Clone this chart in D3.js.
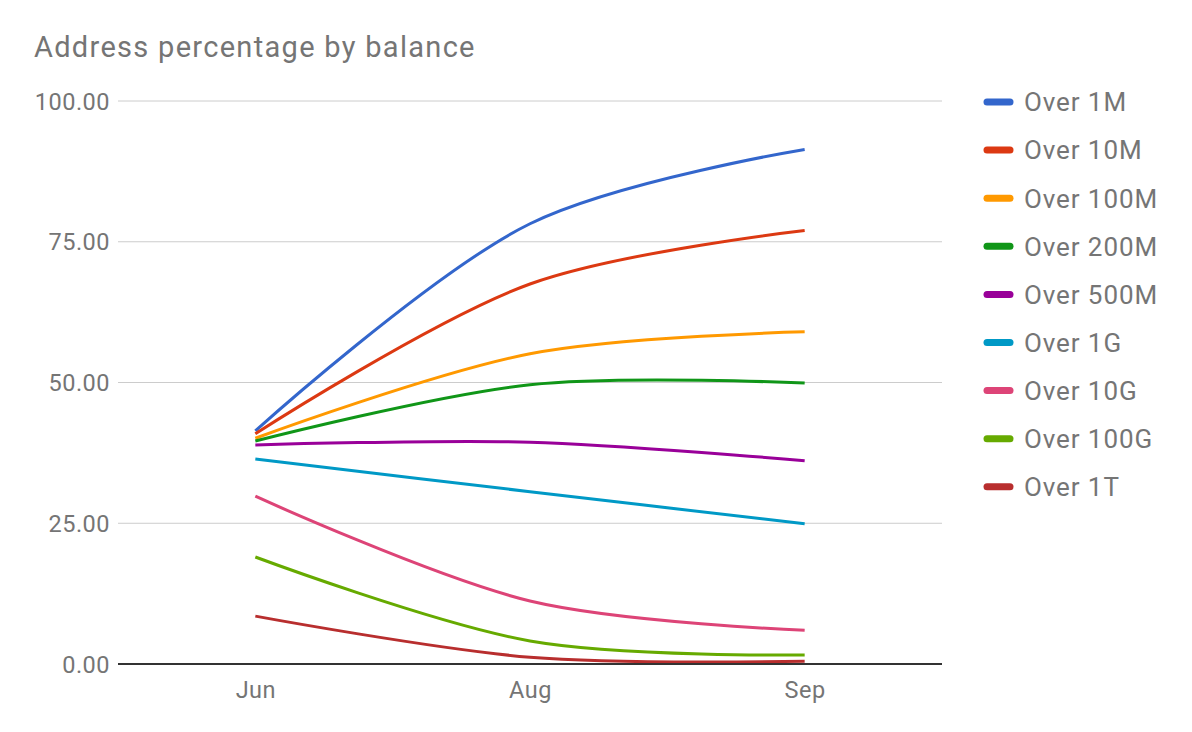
<!DOCTYPE html>
<html><head><meta charset="utf-8">
<script src="https://cdn.jsdelivr.net/npm/d3@7"></script>
<style>body{margin:0;background:#fff}svg{display:block;font-family:Roboto,Arial,sans-serif}</style>
</head><body><svg id="c" width="1192" height="732"></svg>
<script>
const title = "Address percentage by balance";
const months = ["Jun", "Aug", "Sep"];
const seriesNames = ["Over 1M","Over 10M","Over 100M","Over 200M","Over 500M","Over 1G","Over 10G","Over 100G","Over 1T"];
const over1M   = [41.4, 78.2, 91.4];
const over10M  = [40.9, 67.5, 77.0];
const over100M = [40.1, 55.1, 59.0];
const over200M = [39.6, 49.6, 49.9];
const over500M = [38.9, 39.4, 36.1];
const over1G   = [36.4, 30.6, 24.9];
const over10G  = [29.8, 11.2, 6.0];
const over100G = [19.0, 4.1, 1.6];
const over1T   = [8.5, 1.2, 0.5];
const yTicks = [0, 25, 50, 75, 100];
const colors = ["#3366cc","#dc3912","#ff9900","#109618","#990099","#0099c6","#dd4477","#66aa00","#b82e2e"];
const allValues = [over1M, over10M, over100M, over200M, over500M, over1G, over10G, over100G, over1T];

const svg = d3.select("#c");
const L = 118, R = 942, T = 101, B = 664;
const x = d3.scalePoint().domain(months).range([L, R]).padding(0.5);
const y = d3.scaleLinear().domain([0, 100]).range([B, T]);

svg.append("text").attr("x", 34).attr("y", 57).attr("font-size", 29).attr("letter-spacing", 1.3)
  .attr("fill", "#757575").text(title);

svg.append("g").selectAll("line").data(yTicks.filter(d => d !== 0)).enter().append("line")
  .attr("x1", L).attr("x2", R).attr("y1", d => y(d)).attr("y2", d => y(d))
  .attr("stroke", "#cccccc").attr("stroke-width", 1);

const yAxis = d3.axisLeft(y).tickValues(yTicks).tickSize(0).tickPadding(8).tickFormat(d3.format(".2f"));
svg.append("g").attr("transform", `translate(${L},0)`).call(yAxis)
  .call(a => a.select(".domain").remove())
  .call(a => a.selectAll("text").attr("font-size", 23.5).attr("letter-spacing", 0.5).attr("fill", "#757575")
    .attr("font-family", "Roboto,Arial,sans-serif").attr("dy", "0.35em"));

const xAxis = d3.axisBottom(x).tickSize(0).tickPadding(17);
svg.append("g").attr("transform", `translate(0,${B})`).call(xAxis)
  .call(a => a.select(".domain").remove())
  .call(a => a.selectAll("text").attr("font-size", 23.5).attr("letter-spacing", 0.5).attr("fill", "#757575")
    .attr("font-family", "Roboto,Arial,sans-serif"));

const line = d3.line().x((d, i) => x(months[i])).y(d => y(d)).curve(d3.curveCatmullRom.alpha(0.5));
svg.append("g").selectAll("path").data(allValues).enter().append("path")
  .attr("d", d => line(d)).attr("fill", "none")
  .attr("stroke", (d, i) => colors[i]).attr("stroke-width", 3);

svg.append("line").attr("x1", L).attr("x2", R).attr("y1", y(0)).attr("y2", y(0))
  .attr("stroke", "#333333").attr("stroke-width", 2);

const lg = svg.append("g").selectAll("g").data(seriesNames).enter().append("g")
  .attr("transform", (d, i) => `translate(0,${102 + i * 48.1})`);
lg.append("line").attr("x1", 987).attr("x2", 1010).attr("y1", 0).attr("y2", 0)
  .attr("stroke", (d, i) => colors[i]).attr("stroke-width", 7).attr("stroke-linecap", "round");
lg.append("text").attr("x", 1024).attr("y", 0).attr("dy", "0.36em").attr("font-size", 26).attr("letter-spacing", 0.9)
  .attr("fill", "#757575").text(d => d);
</script></body></html>
